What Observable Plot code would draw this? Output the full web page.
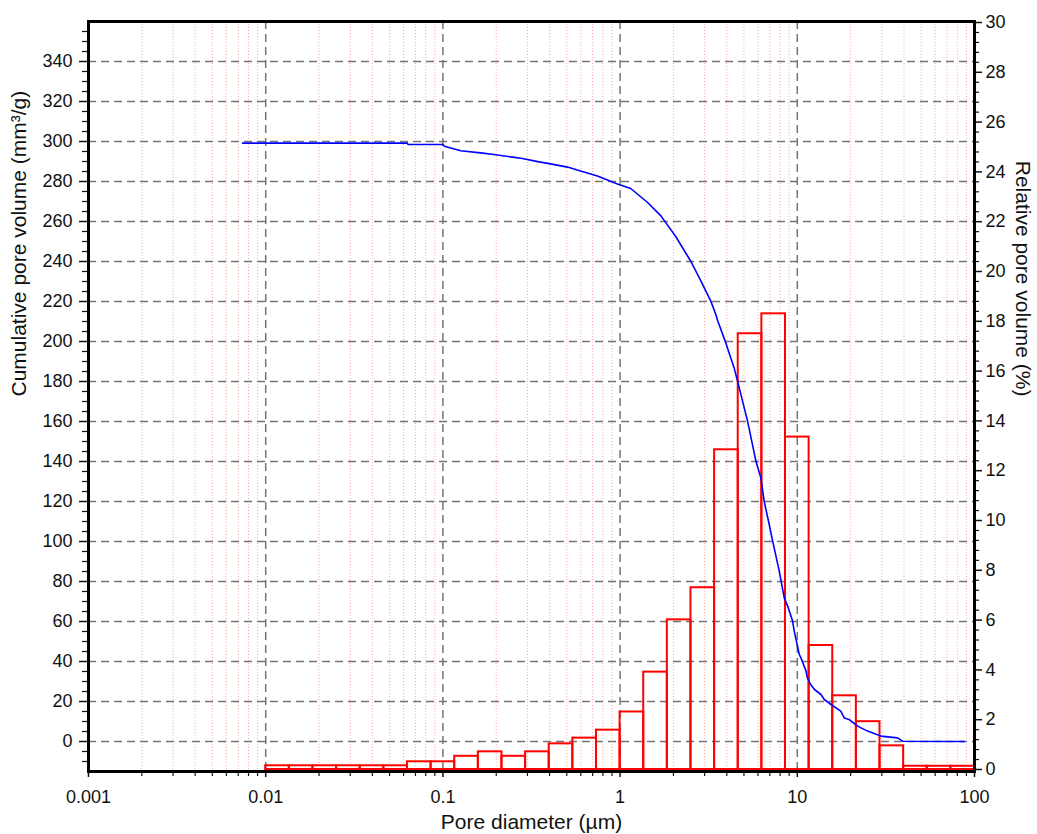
<!DOCTYPE html>
<html>
<head>
<meta charset="utf-8">
<script src="https://cdn.jsdelivr.net/npm/d3@7"></script>
<script src="https://cdn.jsdelivr.net/npm/@observablehq/plot@0.6"></script>
<style>
  html, body { margin: 0; padding: 0; background: #fff; }
  #chart svg { display: block; }
</style>
</head>
<body>
<div id="chart"></div>
<script>
// ---------- data ----------
// histogram bin edges (µm)
const binEdges = [
  0.01, 0.013594, 0.018478, 0.025119, 0.034146, 0.046416, 0.063096, 0.08577,
  0.116591, 0.158489, 0.215443, 0.292864, 0.398107, 0.54117, 0.735642,
  1, 1.3594, 1.8478, 2.5119, 3.4146, 4.6416, 6.3096, 8.577,
  11.659, 15.849, 21.544, 29.286, 39.811, 54.117, 73.564, 100
];
// relative pore volume per bin (%)
const relVolume = [
  0.15, 0.15, 0.15, 0.15, 0.15, 0.15, 0.31, 0.31, 0.53, 0.71,
  0.53, 0.71, 1.03, 1.26, 1.58, 2.31, 3.91, 6.01, 7.30, 12.84,
  17.5, 18.3, 13.35, 4.98, 2.96, 1.92, 0.95, 0.13, 0.13, 0.13
];
// cumulative pore volume curve
const curveDiameter = [
  0.0074, 0.063, 0.0635, 0.1, 0.102, 0.126, 0.163, 0.194, 0.247, 0.281,
  0.349, 0.405, 0.505, 0.598, 0.745, 0.966, 1.148, 1.43, 1.70, 2.06,
  2.51, 2.86, 3.25, 3.47, 3.55, 3.95, 4.40, 4.60, 5.24, 5.84,
  6.23, 6.50, 6.94, 7.26, 7.91, 8.44, 8.82, 9.41, 9.61, 10.26,
  10.49, 11.2, 11.4, 11.9, 12.5, 13.6, 14.2, 15.5, 17.6, 18.4,
  19.6, 21.9, 24.9, 29.6, 36.8, 39.3, 87.5
];
const curveCumulative = [
  299.2, 299.2, 298.5, 298.5, 297.6, 295.4, 294.3, 293.5, 292.2, 291.5,
  289.8, 288.8, 287.2, 285.2, 282.7, 278.8, 276.5, 269.5, 262.8, 252.5,
  240, 230.2, 220.2, 213.5, 210.5, 199.3, 186.8, 180.2, 160.2, 140.2,
  131.8, 120.2, 108.5, 100.2, 85.2, 71.8, 67.7, 60.2, 55.2, 43.5,
  41.8, 35.2, 31.8, 28.5, 26, 23.5, 21, 18.5, 15.2, 11.8,
  11, 7.7, 5.2, 2.7, 1.8, 0.15, 0
];
// ticks & labels
const xTickValues = [0.001, 0.01, 0.1, 1, 10, 100];
const xTickLabels = ["0.001", "0.01", "0.1", "1", "10", "100"];
const xGridMajor = [0.01, 0.1, 1, 10];
const leftTickValues = [0, 20, 40, 60, 80, 100, 120, 140, 160, 180, 200, 220, 240, 260, 280, 300, 320, 340];
const rightTickValues = [0, 2, 4, 6, 8, 10, 12, 14, 16, 18, 20, 22, 24, 26, 28, 30];
const xTitle = "Pore diameter (µm)";
const leftTitle = "Cumulative pore volume (mm³/g)";
const rightTitle = "Relative pore volume (%)";

// ---------- derived tables ----------
const relToCum = r => -14 + 12.45 * r;   // right axis (%) onto left scale
const cumToRel = v => (v + 14) / 12.45;

const bars = relVolume.map((r, i) => ({x1: binEdges[i], x2: binEdges[i + 1], r}));
const curve = curveDiameter.map((d, i) => ({d, v: curveCumulative[i]}));

const minorX = [];
for (const dec of [0.001, 0.01, 0.1, 1, 10]) for (let m = 2; m <= 9; m++) minorX.push(+(dec * m).toPrecision(6));
const minorLeft = d3.range(-10, 361, 5).filter(v => v % 20 !== 0);
const minorRight = d3.range(0, 76).filter(k => k % 5 !== 0).map(k => relToCum(k * 0.4));

const fontFamily = "'Liberation Sans', Arial, Helvetica, sans-serif";

const chart = Plot.plot({
  width: 1037,
  height: 834,
  marginLeft: 88,
  marginRight: 63,
  marginTop: 21,
  marginBottom: 63,
  style: {fontFamily, fontSize: "18px", color: "#111", background: "#fff"},
  x: {type: "log", domain: [0.001, 100]},
  y: {domain: [-15, 360]},
  marks: [
    // minor vertical grid (pink dotted)
    Plot.ruleX(minorX, {stroke: "#ffa8a8", strokeWidth: 1, strokeDasharray: "1,2"}),
    // major grid (gray dashed)
    Plot.ruleX(xGridMajor, {stroke: "#747474", strokeWidth: 1.5, strokeDasharray: "8,5"}),
    Plot.ruleY(leftTickValues, {stroke: "#747474", strokeWidth: 1.5, strokeDasharray: "8,5"}),
    // histogram bars
    Plot.rect(bars, {
      x1: "x1", x2: "x2",
      y1: () => relToCum(0),
      y2: d => relToCum(d.r),
      fill: "none", stroke: "#ff0000", strokeWidth: 2
    }),
    // cumulative curve
    Plot.line(curve, {x: "d", y: "v", stroke: "#0000ff", strokeWidth: 1.6}),
    // bottom axis
    Plot.axisX(minorX, {anchor: "bottom", tickSize: 5, tickFormat: () => "", label: null, strokeWidth: 1.2}),
    Plot.axisX(xTickValues, {
      anchor: "bottom", tickSize: 6, tickPadding: 13, label: null, strokeWidth: 1.5,
      tickFormat: d => xTickLabels[xTickValues.indexOf(d)]
    }),
    // left axis
    Plot.axisY(minorLeft, {anchor: "left", tickSize: 6, tickFormat: () => "", label: null, strokeWidth: 1.2}),
    Plot.axisY(leftTickValues, {anchor: "left", tickSize: 9, tickPadding: 7, label: null, strokeWidth: 1.5}),
    // right axis
    Plot.axisY(minorRight, {anchor: "right", tickSize: 4, tickFormat: () => "", label: null, strokeWidth: 1.2}),
    Plot.axisY(rightTickValues.map(relToCum), {
      anchor: "right", tickSize: 7, tickPadding: 4, label: null, strokeWidth: 1.5,
      tickFormat: v => String(Math.round(cumToRel(v)))
    }),
    // frame
    Plot.frame({stroke: "#000", strokeWidth: 3}),
    // axis titles
    Plot.text([xTitle], {frameAnchor: "bottom", dy: 50.5, lineAnchor: "middle", fontSize: 21, fill: "#111", letterSpacing: "1px"}),
    Plot.text([leftTitle], {frameAnchor: "left", dx: -69.5, rotate: -90, lineAnchor: "middle", fontSize: 21, fill: "#111", letterSpacing: "0.6px"}),
    Plot.text([rightTitle], {frameAnchor: "right", dx: 48, rotate: 90, lineAnchor: "middle", fontSize: 21, fill: "#111", letterSpacing: "0.8px"})
  ]
});
document.getElementById("chart").appendChild(chart);
</script>
</body>
</html>
